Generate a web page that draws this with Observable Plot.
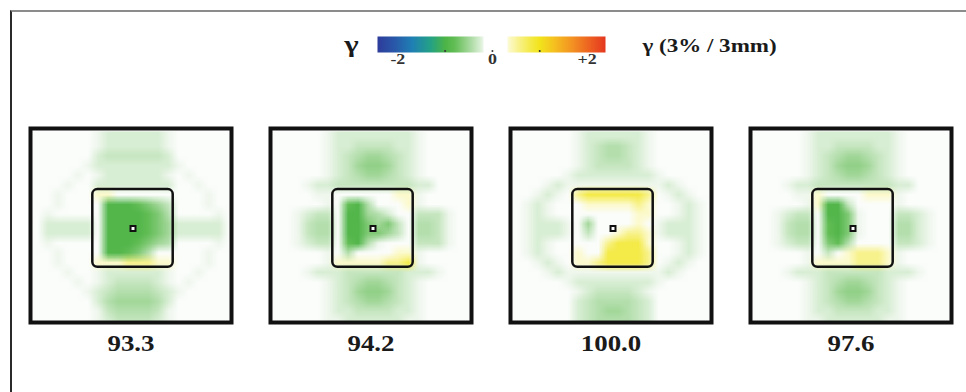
<!DOCTYPE html>
<html><head><meta charset="utf-8">
<script src="https://cdn.jsdelivr.net/npm/d3@7"></script>
<script src="https://cdn.jsdelivr.net/npm/@observablehq/plot@0.6"></script>
<style>
html,body{margin:0;padding:0;background:#fff;}
#page{position:relative;width:966px;height:392px;overflow:hidden;background:#fff;}
#border{position:absolute;left:10px;top:10px;right:-4px;bottom:-4px;border-top:2px solid #8c8c8c;border-left:2px solid #2a2a2a;}
.abs{position:absolute;}
.abs svg{overflow:visible;}
</style></head><body><div id="page"><div id="border"></div></div>
<script>
// ---------- data ----------
const passRates = ["93.3", "94.2", "100.0", "97.6"];          // gamma pass rate per panel (%)
const legendTitleLeft = "γ";
const legendTitleRight = "γ (3% / 3mm)";
const tickValues = [-2, 0, 2];
const tickText = ["-2", "0", "+2"];
const minorTicks = [-1, 0, 1];
const barSegments = [[-2.43, -0.19], [0.32, 2.39]];             // gamma extent of the two colour bars
const gammaStops  = [-2.45, -2.1, -1.7, -1.3, -1.0, -0.8, -0.5, -0.26, -0.15, 0.15, 0.32, 0.55, 0.8, 1.0, 1.3, 1.7, 2.1, 2.45];
const gammaColors = ["#2e3a9a","#2a55a8","#1f7fb4","#25a284","#4cb447","#62bd55","#a2d799","#d8eed4","#f7fbf6","#ffffff","#fdfbd6","#f8f28c","#f4ea48","#f2e41c","#f5c11f","#f39022","#ec5b21","#e3301f"];
// gamma level per map character
const gammaLevels = {".": 0, "1": -0.18, "2": -0.26, "3": -0.34, "4": -0.42, "5": -0.5, "6": -0.58,
                     "h": -0.66, "g": -0.8, "G": -0.95, "y": 0.35, "Y": 0.55, "Z": 0.8};
const fieldExtent = [-100, 100];   // mm, extent of the gamma map
const gridSize = 20;
const innerBox = {x1: -40, x2: 40, y1: -40, y2: 40};   // mm, target outline
const centerPoint = {x: 0, y: 0};
// gamma maps, rows top->bottom, 20 cells each (left | box | right)
const map933 = [
  "......|12222221|......",
  "......|12222221|......",
  "......|23333332|......",
  ".....1|22222222|1.....",
  "....1.|12222221|.1....",
  "...1..|22222222|..1...",
  "..1...|yy......|...1..",
  "..1...|.GGGgh53|...1..",
  ".1....|.GGGGgh4|....1.",
  ".22222|.GGGGgh5|22222.",
  ".22222|.GGGGgh5|22222.",
  ".1....|.GGGgh54|....1.",
  "..1...|.GGgh4..|...1..",
  "..1...|yyyYYYyy|...1..",
  "...1..|12222221|..1...",
  "....1.|12333321|.1....",
  ".....1|23444432|1.....",
  "......|24555542|......",
  "......|13444431|......",
  "......|12333321|......"
];
const map942 = [
  ".....1|22222222|1.....",
  ".....1|22333322|1.....",
  ".....1|23455432|1.....",
  ".....1|23566532|1.....",
  ".....1|23455432|1.....",
  "...122|33333333|22....",
  "....11|......yy|1.....",
  ".....1|.gG4...y|1.....",
  "..1233|.GG542..|3331..",
  "..1344|.GGh5h3.|4431..",
  "..1344|.GGhh53.|4431..",
  "..1233|.gG41...|3331..",
  ".....1|.4....yy|1.....",
  ".....1|yyyyyYYZ|1.....",
  "...122|23333332|221...",
  ".....1|23455432|1.....",
  ".....1|23566532|1.....",
  ".....1|23455432|1.....",
  ".....1|22333322|1.....",
  ".....1|12222221|1....."
];
const map1000 = [
  "......|12222221|......",
  "......|12344321|......",
  "......|12344321|......",
  "......|12333321|......",
  ".....1|22222222|1.....",
  "...121|11111111|121...",
  "..121.|YZZZZZZY|.121..",
  ".121..|.yyyyyYy|..121.",
  ".121..|......yy|..121.",
  ".12221|.5....y.|12221.",
  ".12221|.3..yYYy|12221.",
  ".121..|...YZZZy|..121.",
  ".121..|y..ZZZZY|..121.",
  "..121.|yyYZZZZY|.121..",
  "...121|11111111|121...",
  ".....1|22222222|1.....",
  "......|12333321|......",
  "......|23444432|......",
  "......|23455432|......",
  "......|23444432|......"
];
const map976 = [
  ".....1|22222222|1.....",
  ".....1|22333322|1.....",
  ".....1|23455432|1.....",
  ".....1|23566532|1.....",
  ".....1|23455432|1.....",
  "...122|33333333|22....",
  "....11|y....yyy|1.....",
  ".....1|yGG3....|1.....",
  "..1233|.GGh1...|3321..",
  "..1344|.gGh1...|4421..",
  "..1344|.gGh1...|4421..",
  "..1233|.hg4....|3321..",
  ".....1|.3.yYYYy|1.....",
  ".....1|yyyyYYYy|1.....",
  "...122|23333332|221...",
  ".....1|23455432|1.....",
  ".....1|23566532|1.....",
  ".....1|23455432|1.....",
  ".....1|22333322|1.....",
  ".....1|12222221|1....."
];
const panelMaps = [map933, map942, map1000, map976];

// ---------- helpers ----------
const serif = '"Liberation Serif", "Times New Roman", serif';
const colorScale = {type: "linear", domain: gammaStops, range: gammaColors, clamp: true};

function parseGrid(rows) {
  const out = [];
  for (const row of rows) {
    const s = row.replace(/\|/g, "");
    if (s.length !== gridSize) console.warn("bad row length", s.length, row);
    for (let c = 0; c < gridSize; c++) out.push(gammaLevels[s[c]] ?? 0);
  }
  return out;
}
function stretchText(svg, k) {
  svg.querySelectorAll("text").forEach(t => {
    const x = +t.getAttribute("x") || 0, y = +t.getAttribute("y") || 0;
    const tr = t.getAttribute("transform") || "";
    t.setAttribute("transform", `${tr} translate(${x},${y}) scale(${k},1) translate(${-x},${-y})`);
  });
}
function place(node, left, top) {
  const d = document.createElement("div");
  d.className = "abs";
  d.style.left = left + "px";
  d.style.top = top + "px";
  d.appendChild(node);
  document.getElementById("page").appendChild(d);
}

// ---------- colour bar legend ----------
const legend = Plot.plot({
  width: 500, height: 60,
  marginLeft: 77, marginRight: 195, marginTop: 16, marginBottom: 28,
  x: {domain: [barSegments[0][0], barSegments[1][1]], axis: null},
  y: {domain: [0, 1], axis: null},
  color: colorScale,
  style: {background: "transparent"},
  marks: [
    ...barSegments.map(s => Plot.raster({x1: s[0], x2: s[1], y1: 0, y2: 1, fill: (x, y) => x, pixelSize: 1})),
    Plot.dot(minorTicks, {x: d => d, frameAnchor: "bottom", dy: -1.5, r: 1, fill: "#333"}),
    Plot.text(tickValues, {x: d => d, text: (d, i) => tickText[i], frameAnchor: "bottom", dy: 11,
      fontSize: 14, fontWeight: "bold", fontFamily: serif, fill: "#333"}),
    Plot.text([legendTitleLeft], {text: d => d, frameAnchor: "left", textAnchor: "end", dx: -19, dy: 0,
      fontSize: 24, fontWeight: "bold", fontFamily: serif, fill: "#1a1a1a"}),
    Plot.text([legendTitleRight], {text: d => d, frameAnchor: "right", textAnchor: "start", dx: 37, dy: 2,
      fontSize: 18, fontWeight: "bold", fontFamily: serif, fill: "#1a1a1a"})
  ]
});
stretchText(legend, 1.28);
place(legend, 300, 20);

// ---------- gamma map panels ----------
panelMaps.forEach((rows, i) => {
  const values = parseGrid(rows);
  const svg = Plot.plot({
    width: 240, height: 292,
    marginLeft: 30, marginRight: 9, marginTop: 28, marginBottom: 70,
    x: {domain: [-102, 98], axis: null},
    y: {domain: [-103, 97], reverse: true, axis: null},
    color: colorScale,
    style: {background: "transparent"},
    marks: [
      Plot.raster(values, {width: gridSize, height: gridSize,
        x1: fieldExtent[0], x2: fieldExtent[1], y1: fieldExtent[0], y2: fieldExtent[1],
        fill: Plot.identity, clip: true}),
      Plot.rect([innerBox], {x1: "x1", x2: "x2", y1: "y1", y2: "y2", rx: 5, ry: 5,
        fill: "none", stroke: "#111", strokeWidth: 2.5}),
      Plot.dot([centerPoint], {x: "x", y: "y", symbol: "square", r: 2.8, fill: "#fff", stroke: "#111", strokeWidth: 2}),
      Plot.frame({stroke: "#111", strokeWidth: 4}),
      Plot.text([passRates[i]], {text: d => d, frameAnchor: "bottom", dy: 28.5,
        fontSize: 23, fontWeight: "bold", fontFamily: serif, fill: "#1a1a1a"})
    ]
  });
  stretchText(svg, 1.17);
  place(svg, 240 * i, 100);
});
</script>
</body></html>
